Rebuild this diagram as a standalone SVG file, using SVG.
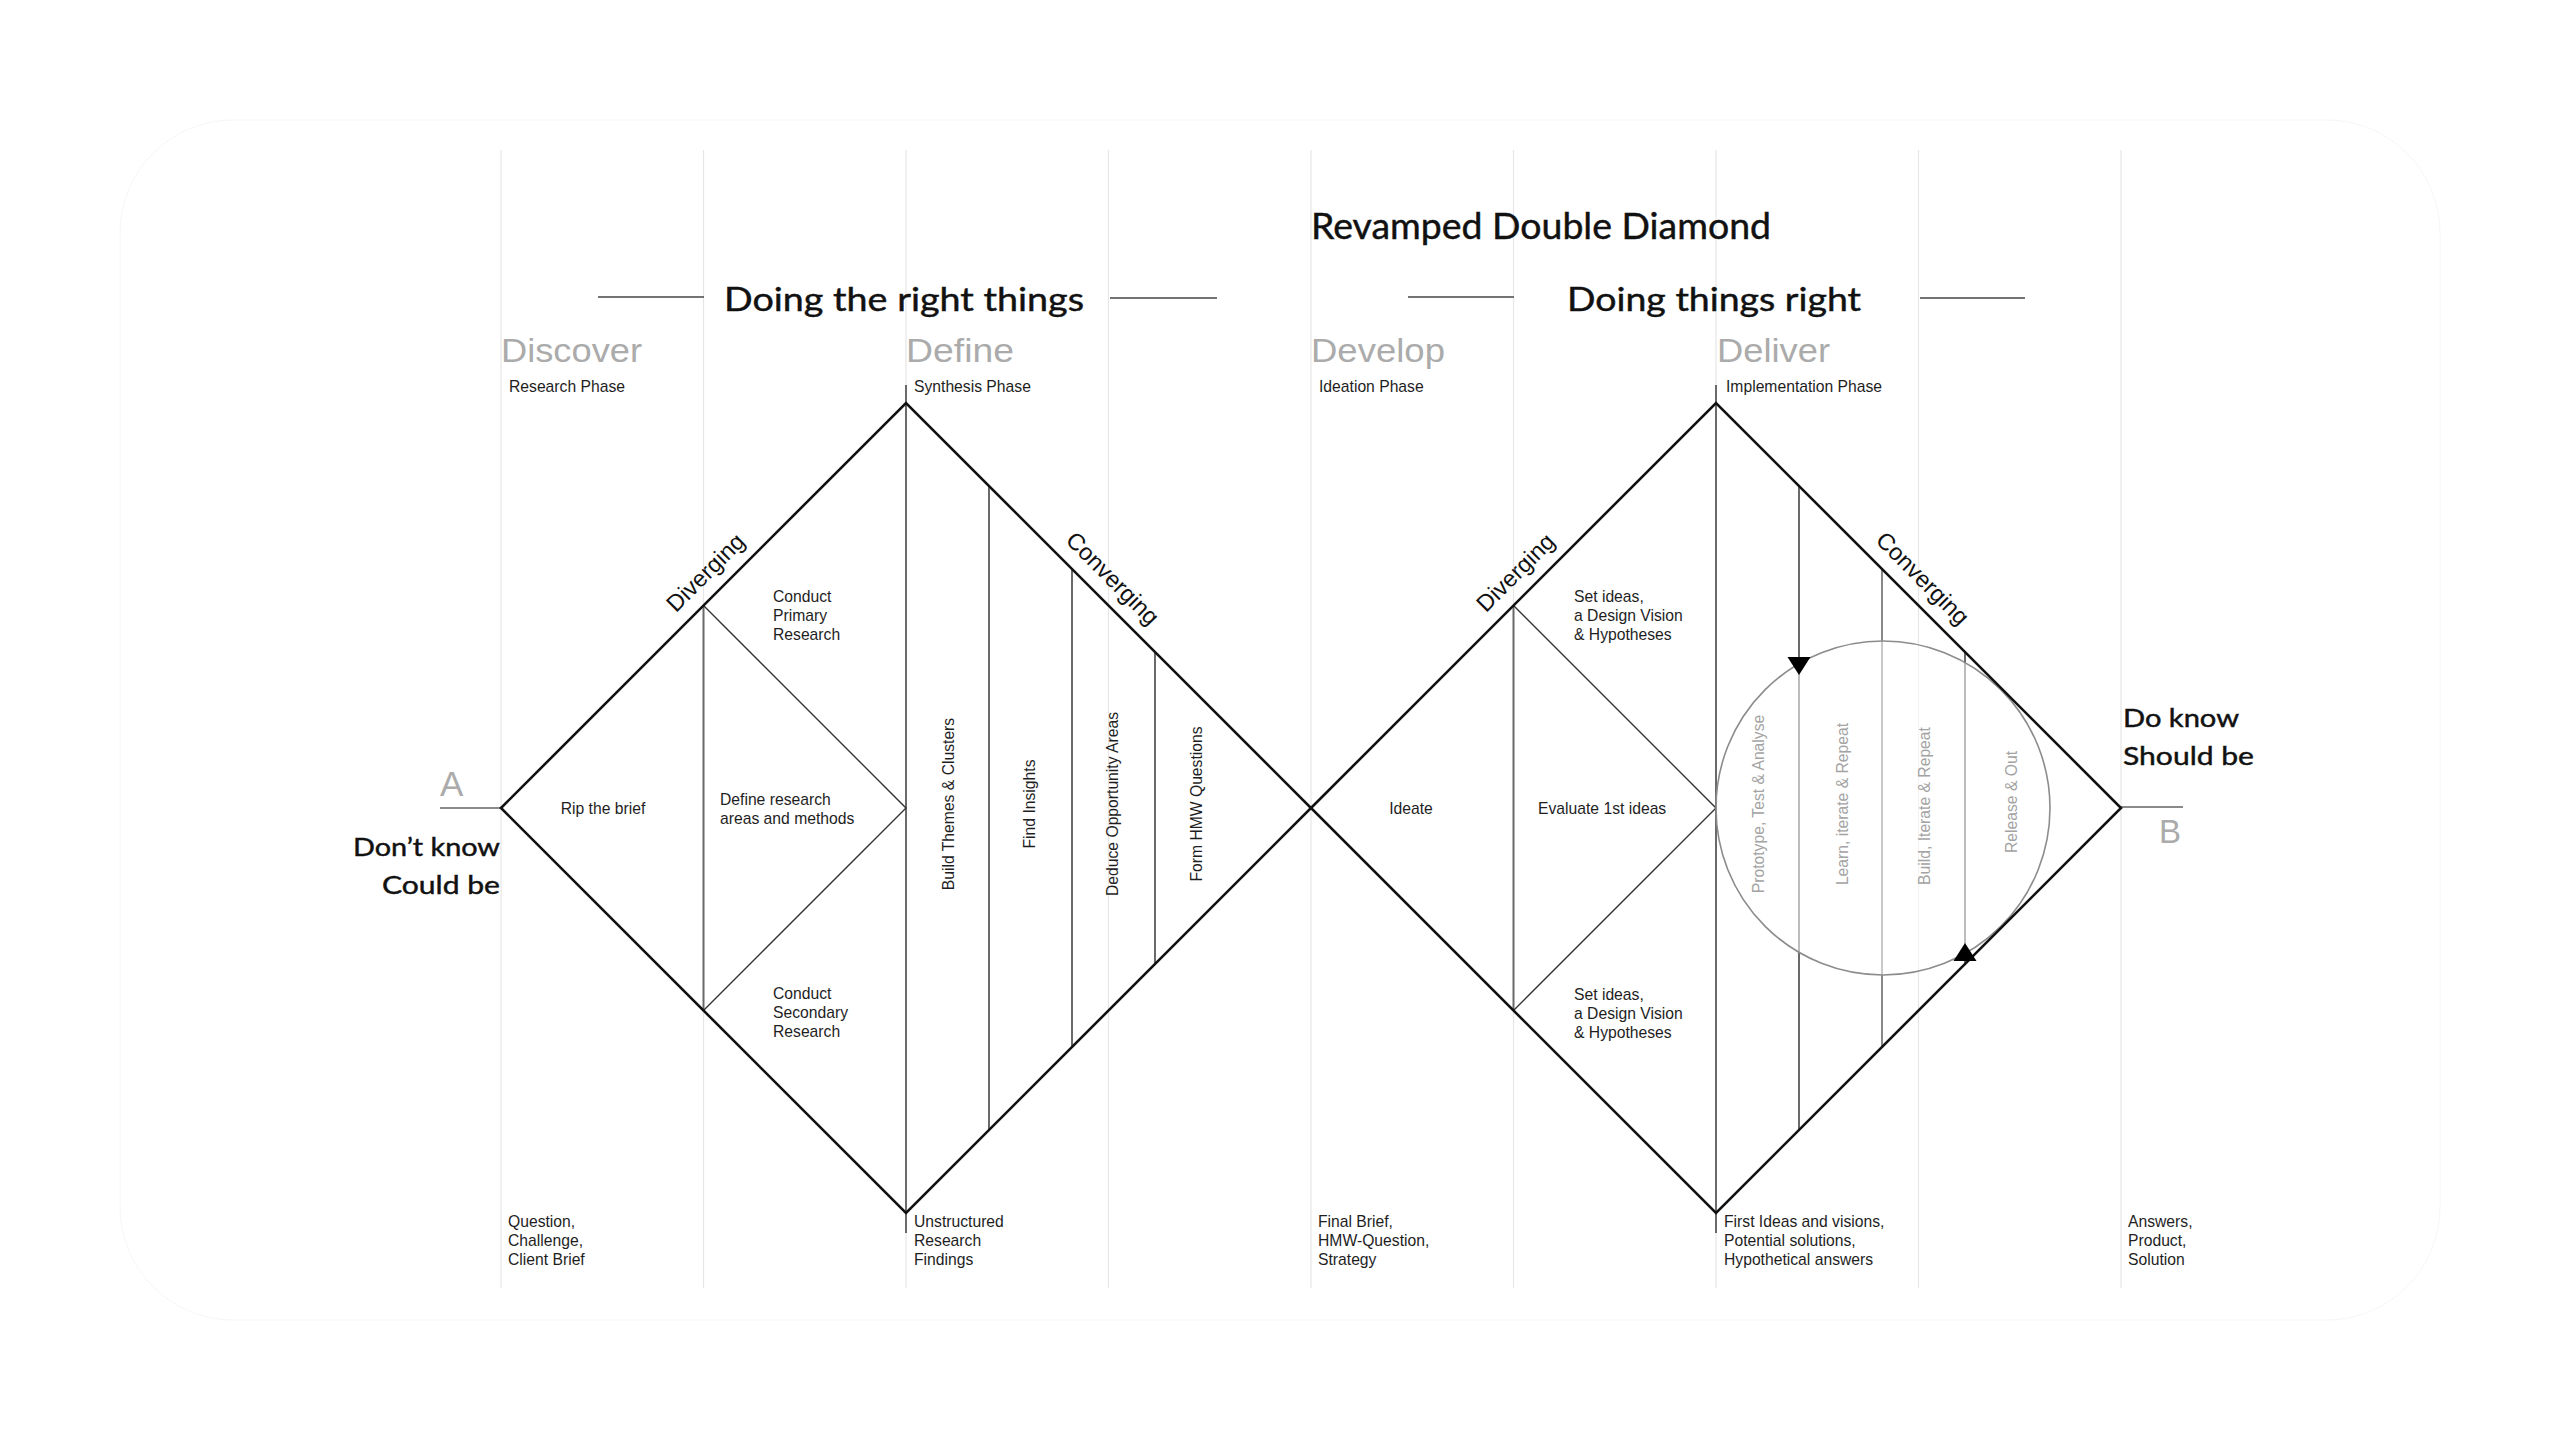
<svg xmlns="http://www.w3.org/2000/svg" width="2560" height="1440" viewBox="0 0 2560 1440">
<style>
.grid{stroke:#e6e6e6;stroke-width:1.2}
.edge{stroke:#111;stroke-width:2.6;fill:none;stroke-linejoin:miter}
.inner{stroke:#333;stroke-width:1.4;fill:none}
.vl{stroke:#6a6a6a;stroke-width:2}
.vl2{stroke:#888;stroke-width:2}
.lbl{font-family:"Liberation Sans",Arial,sans-serif;font-size:15.7px;fill:#1e1e1e}
.glbl{font-family:"Liberation Sans",Arial,sans-serif;font-size:15.7px;fill:#a3a3a3}
.phase{font-family:"Liberation Sans",Arial,sans-serif;font-size:33px;fill:#ababab}
.title{font-family:Lato,"Open Sans",sans-serif;fill:#111;stroke:#111;stroke-width:0.45}
.dir{font-family:"Liberation Sans",Arial,sans-serif;font-size:23.5px;fill:#111}
.deco{stroke:#444;stroke-width:1.6}
.ab{stroke:#8a8a8a;stroke-width:2}
</style>
<rect x="0" y="0" width="2560" height="1440" fill="#ffffff"/>
<rect id="frame" x="120" y="120" width="2320" height="1200" rx="113" fill="none" stroke="#f6f6f6" stroke-width="1"/>

<g id="grid">
<line class="grid" x1="501" y1="150" x2="501" y2="1288"/>
<line class="grid" x1="703.5" y1="150" x2="703.5" y2="1288"/>
<line class="grid" x1="906" y1="150" x2="906" y2="1288"/>
<line class="grid" x1="1108.5" y1="150" x2="1108.5" y2="1288"/>
<line class="grid" x1="1311" y1="150" x2="1311" y2="1288"/>
<line class="grid" x1="1513.5" y1="150" x2="1513.5" y2="1288"/>
<line class="grid" x1="1716" y1="150" x2="1716" y2="1288"/>
<line class="grid" x1="1918.5" y1="150" x2="1918.5" y2="1288"/>
<line class="grid" x1="2121" y1="150" x2="2121" y2="1288"/>
</g>

<g id="titles">
<text class="title" x="1311" y="239" font-size="36" textLength="460" lengthAdjust="spacingAndGlyphs">Revamped Double Diamond</text>
<text class="title" x="724" y="311" font-size="32.5" textLength="360" lengthAdjust="spacingAndGlyphs">Doing the right things</text>
<text class="title" x="1567" y="311" font-size="32.5" textLength="294" lengthAdjust="spacingAndGlyphs">Doing things right</text>
<line class="deco" x1="598" y1="297" x2="704" y2="297"/>
<line class="deco" x1="1110" y1="298" x2="1217" y2="298"/>
<line class="deco" x1="1408" y1="297" x2="1514" y2="297"/>
<line class="deco" x1="1920" y1="298" x2="2025" y2="298"/>
</g>

<g id="phases">
<text class="phase" x="501" y="362" textLength="141" lengthAdjust="spacingAndGlyphs">Discover</text>
<text class="lbl" x="509" y="392">Research Phase</text>
<text class="phase" x="906" y="362" textLength="108" lengthAdjust="spacingAndGlyphs">Define</text>
<text class="lbl" x="914" y="392">Synthesis Phase</text>
<text class="phase" x="1311" y="362" textLength="134" lengthAdjust="spacingAndGlyphs">Develop</text>
<text class="lbl" x="1319" y="392">Ideation Phase</text>
<text class="phase" x="1717" y="362" textLength="113" lengthAdjust="spacingAndGlyphs">Deliver</text>
<text class="lbl" x="1726" y="392">Implementation Phase</text>
</g>

<g id="start-A">
<text x="440" y="796" font-family="Liberation Sans, Arial, sans-serif" font-size="35" fill="#ababab">A</text>
<line class="ab" x1="440" y1="808" x2="502" y2="808"/>
<text class="title" x="500" y="856" font-size="25.5" text-anchor="end" textLength="147" lengthAdjust="spacingAndGlyphs">Don’t know</text>
<text class="title" x="500" y="894" font-size="25.5" text-anchor="end" textLength="118" lengthAdjust="spacingAndGlyphs">Could be</text>
</g>

<g id="end-B">
<text x="2159" y="843" font-family="Liberation Sans, Arial, sans-serif" font-size="33" fill="#ababab">B</text>
<line class="ab" x1="2120" y1="807" x2="2183" y2="807"/>
<text class="title" x="2123" y="727" font-size="25.5" textLength="116" lengthAdjust="spacingAndGlyphs">Do know</text>
<text class="title" x="2123" y="765" font-size="25.5" textLength="131" lengthAdjust="spacingAndGlyphs">Should be</text>
</g>

<g id="diamond-left">
<line class="vl" x1="906" y1="385" x2="906" y2="1233"/>
<line class="vl" x1="703.5" y1="605.5" x2="703.5" y2="1010.5"/>
<polyline class="inner" points="703.5,605.5 906,808 703.5,1010.5"/>
<line class="vl" x1="989" y1="486" x2="989" y2="1130"/>
<line class="vl" x1="1072" y1="569" x2="1072" y2="1047"/>
<line class="vl" x1="1155" y1="652" x2="1155" y2="964"/>
<polygon class="edge" points="501,808 906,403 1311,808 906,1213"/>
<text class="dir" transform="translate(721,588) rotate(-45)" x="0" y="-14" text-anchor="middle">Diverging</text>
<text class="dir" transform="translate(1097,594) rotate(45)" x="0" y="-14" text-anchor="middle">Converging</text>
<text class="lbl" x="603" y="814" text-anchor="middle">Rip the brief</text>
<text class="lbl" x="720" y="805">Define research</text>
<text class="lbl" x="720" y="824">areas and methods</text>
<text class="lbl" x="773" y="602">Conduct</text>
<text class="lbl" x="773" y="621">Primary</text>
<text class="lbl" x="773" y="640">Research</text>
<text class="lbl" x="773" y="999">Conduct</text>
<text class="lbl" x="773" y="1018">Secondary</text>
<text class="lbl" x="773" y="1037">Research</text>
<text class="lbl" transform="translate(949,804) rotate(-90)" x="0" y="4.5" text-anchor="middle">Build Themes &amp; Clusters</text>
<text class="lbl" transform="translate(1030,804) rotate(-90)" x="0" y="4.5" text-anchor="middle">Find Insights</text>
<text class="lbl" transform="translate(1113,804) rotate(-90)" x="0" y="4.5" text-anchor="middle">Deduce Opportunity Areas</text>
<text class="lbl" transform="translate(1197,804) rotate(-90)" x="0" y="4.5" text-anchor="middle">Form HMW Questions</text>
</g>

<g id="diamond-right">
<line class="vl" x1="1716" y1="385" x2="1716" y2="1233"/>
<line class="vl" x1="1513.5" y1="605.5" x2="1513.5" y2="1010.5"/>
<polyline class="inner" points="1513.5,605.5 1716,808 1513.5,1010.5"/>
<line class="vl" x1="1799" y1="486" x2="1799" y2="1130"/>
<line class="vl2" x1="1882" y1="569" x2="1882" y2="1047"/>
<line class="vl" x1="1965" y1="652" x2="1965" y2="964"/>
<circle cx="1883" cy="808" r="167" fill="#ffffff" fill-opacity="0.55" stroke="#8c8c8c" stroke-width="1.6"/>
<polygon class="edge" points="1311,808 1716,403 2121,808 1716,1213"/>
<text class="dir" transform="translate(1531,588) rotate(-45)" x="0" y="-14" text-anchor="middle">Diverging</text>
<text class="dir" transform="translate(1907,594) rotate(45)" x="0" y="-14" text-anchor="middle">Converging</text>
<text class="lbl" x="1411" y="814" text-anchor="middle">Ideate</text>
<text class="lbl" x="1538" y="814">Evaluate 1st ideas</text>
<text class="lbl" x="1574" y="602">Set ideas,</text>
<text class="lbl" x="1574" y="621">a Design Vision</text>
<text class="lbl" x="1574" y="640">&amp; Hypotheses</text>
<text class="lbl" x="1574" y="1000">Set ideas,</text>
<text class="lbl" x="1574" y="1019">a Design Vision</text>
<text class="lbl" x="1574" y="1038">&amp; Hypotheses</text>
<text class="glbl" transform="translate(1759,804) rotate(-90)" x="0" y="4.5" text-anchor="middle">Prototype, Test &amp; Analyse</text>
<text class="glbl" transform="translate(1843,804) rotate(-90)" x="0" y="4.5" text-anchor="middle">Learn, iterate &amp; Repeat</text>
<text class="glbl" transform="translate(1925,806) rotate(-90)" x="0" y="4.5" text-anchor="middle">Build, Iterate &amp; Repeat</text>
<text class="glbl" transform="translate(2012,802) rotate(-90)" x="0" y="4.5" text-anchor="middle">Release &amp; Out</text>
</g>

<g id="connectors">
<polygon points="1787.5,657 1810.5,657 1799,675" fill="#000"/>
<polygon points="1953.5,961 1976.5,961 1965,943" fill="#000"/>
</g>

<g id="outputs">
<text class="lbl" x="508" y="1227">Question,</text>
<text class="lbl" x="508" y="1246">Challenge,</text>
<text class="lbl" x="508" y="1265">Client Brief</text>
<text class="lbl" x="914" y="1227">Unstructured</text>
<text class="lbl" x="914" y="1246">Research</text>
<text class="lbl" x="914" y="1265">Findings</text>
<text class="lbl" x="1318" y="1227">Final Brief,</text>
<text class="lbl" x="1318" y="1246">HMW-Question,</text>
<text class="lbl" x="1318" y="1265">Strategy</text>
<text class="lbl" x="1724" y="1227">First Ideas and visions,</text>
<text class="lbl" x="1724" y="1246">Potential solutions,</text>
<text class="lbl" x="1724" y="1265">Hypothetical answers</text>
<text class="lbl" x="2128" y="1227">Answers,</text>
<text class="lbl" x="2128" y="1246">Product,</text>
<text class="lbl" x="2128" y="1265">Solution</text>
</g>
</svg>
